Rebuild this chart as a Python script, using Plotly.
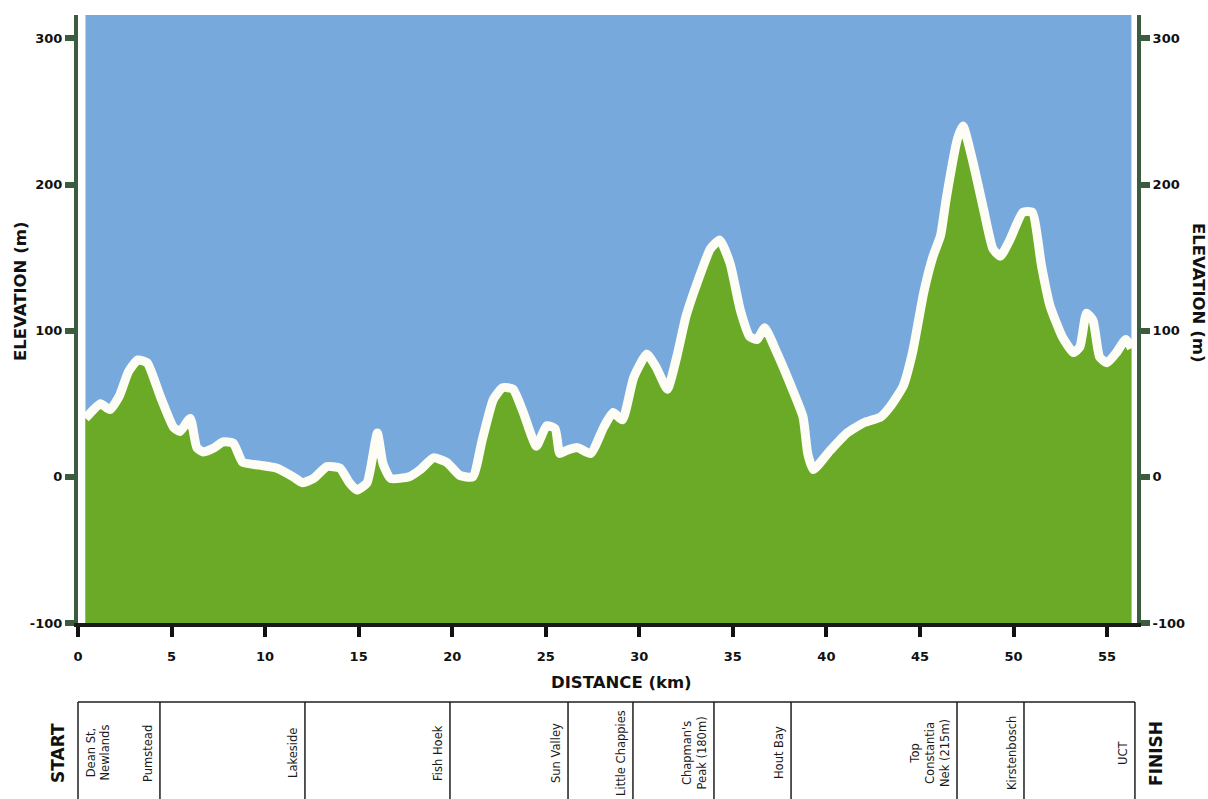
import plotly.graph_objects as go

# ---------------- data ----------------
distance_km = [0.4, 1.2, 1.7, 2.2, 2.7, 3.2, 3.7, 4.4, 5.1, 5.45, 6.0, 6.35, 6.7, 7.3, 7.75,
               8.3, 8.8, 9.7, 10.6, 11.5, 12.0, 12.6, 13.3, 14.0, 14.5, 14.9, 15.45, 16.0,
               16.3, 16.7, 17.7, 18.3, 19.0, 19.7, 20.4, 21.1, 21.6, 22.2, 22.7, 23.25, 23.8,
               24.5, 25.05, 25.5, 25.75, 26.1, 26.7, 27.4, 28.1, 28.6, 29.1, 29.7, 30.4, 30.9,
               31.5, 32.0, 32.5, 33.1, 33.8, 34.3, 34.85, 35.4, 35.9, 36.3, 36.7, 37.35, 38.05,
               38.75, 39.0, 39.3, 40.2, 41.1, 42.0, 42.9, 43.4, 44.1, 44.6, 45.2, 45.7, 46.1,
               46.4, 47.0, 47.3, 47.8, 48.4, 48.9, 49.3, 49.8, 50.5, 51.0, 51.5, 51.95, 52.6,
               53.2, 53.55, 53.9, 54.25, 54.6, 55.0, 55.5, 56.0, 56.3]
elevation_m = [40, 50, 46, 55, 72, 80, 78, 55, 34, 31, 40, 20, 17, 20, 24,
               23, 10, 8, 6, 0, -4, -1, 7, 6, -4, -9, -4, 30,
               9, -1, 0, 5, 13, 10, 1, 0, 25, 53, 61, 60, 44,
               21, 35, 33, 16, 18, 20, 16, 34, 44, 39, 68, 84, 75,
               60, 82, 110, 133, 156, 162, 146, 114, 96, 94, 102, 85, 64,
               41, 16, 5, 18, 30, 37, 41, 48, 62, 85, 126, 151, 165,
               190, 231, 240, 217, 183, 156, 151, 162, 181, 181, 144, 117, 96,
               85, 89, 112, 107, 82, 78, 85, 94, 88]

x_ticks = [0, 5, 10, 15, 20, 25, 30, 35, 40, 45, 50, 55]
y_ticks = [300, 200, 100, 0, -100]
y_tick_text = ["300", "200", "100", "0", "-100"]
y_range = [-100, 316]
x_range = [0, 56.6]

landmark_names = ["Pumstead", "Lakeside", "Fish Hoek", "Sun Valley", "Little Chappies",
                  "Chapman's<br>Peak (180m)", "Hout Bay", "Top<br>Constantia<br>Nek (215m)",
                  "Kirstenbosch", "UCT"]
landmark_km = [4.38, 12.13, 19.88, 26.19, 29.66, 33.99, 38.11, 46.98, 50.56, 56.49]
start_name = "Dean St,<br>Newlands"

# ---------------- style ----------------
W, H = 1208, 799
L, R, T, B = 78, 71, 15, 176
PW, PH = W - L - R, H - T - B
BLUE = "#78a9dc"
GREEN = "#6aaa26"
AXIS_GREEN = "#3d5c3f"
FONT = "DejaVu Sans"


def px_x(px):
    return (px - L) / PW


def px_y(py):
    return (H - B - py) / PH


fig = go.Figure()

# baseline for the filled terrain
fig.add_trace(go.Scatter(x=distance_km, y=[y_range[0]] * len(distance_km),
                         mode="lines", line=dict(width=0, color=GREEN),
                         hoverinfo="skip", showlegend=False))
fig.add_trace(go.Scatter(x=distance_km, y=elevation_m, mode="lines",
                         fill="tonexty", fillcolor=GREEN,
                         line=dict(color="#fdfdf6", width=9, shape="spline", smoothing=0.5),
                         showlegend=False))
# right axis companion (invisible)
fig.add_trace(go.Scatter(x=distance_km, y=elevation_m, yaxis="y2", mode="lines",
                         line=dict(width=0), hoverinfo="skip", showlegend=False, opacity=0))

shapes = [
    dict(type="rect", xref="x", yref="paper", x0=distance_km[0], x1=distance_km[-1],
         y0=0, y1=1, fillcolor=BLUE, line=dict(width=0), layer="below"),
]

# table below the chart
tbl_top = px_y(702)
tbl_bot = px_y(830)
line_style = dict(color="#1e1e1e", width=1.5)
shapes.append(dict(type="line", xref="paper", yref="paper", x0=0, x1=landmark_km[-1] / x_range[1],
                   y0=tbl_top, y1=tbl_top, line=line_style))
shapes.append(dict(type="line", xref="paper", yref="paper", x0=0, x1=0,
                   y0=tbl_top, y1=tbl_bot, line=line_style))
for km in landmark_km:
    shapes.append(dict(type="line", xref="x", yref="paper", x0=km, x1=km,
                       y0=tbl_top, y1=tbl_bot, line=line_style))

label_y = px_y(753)
annotations = []
for name, km in zip(landmark_names, landmark_km):
    annotations.append(dict(x=km, xref="x", y=label_y, yref="paper", text=name,
                            textangle=-90, xanchor="right", yanchor="middle", xshift=-3,
                            showarrow=False, font=dict(family=FONT, size=11.5, color="#1a1a1a")))
annotations.append(dict(x=0, xref="x", y=label_y, yref="paper", text=start_name,
                        textangle=-90, xanchor="left", yanchor="middle", xshift=3,
                        showarrow=False, font=dict(family=FONT, size=11.5, color="#1a1a1a")))
annotations.append(dict(x=0, xref="x", y=label_y, yref="paper", text="START",
                        textangle=-90, xanchor="right", yanchor="middle", xshift=-8,
                        showarrow=False, font=dict(family=FONT, size=17, color="#111", weight="bold")))
annotations.append(dict(x=landmark_km[-1], xref="x", y=label_y, yref="paper", text="FINISH",
                        textangle=-90, xanchor="left", yanchor="middle", xshift=9,
                        showarrow=False, font=dict(family=FONT, size=17, color="#111", weight="bold")))

# axis titles
title_font = dict(family=FONT, size=16.5, color="#111", weight="bold")
annotations.append(dict(x=px_x(20), y=px_y(292), xref="paper", yref="paper",
                        text="ELEVATION (m)", textangle=-90, showarrow=False,
                        xanchor="center", yanchor="middle", font=title_font))
annotations.append(dict(x=px_x(1199), y=px_y(292), xref="paper", yref="paper",
                        text="ELEVATION (m)", textangle=90, showarrow=False,
                        xanchor="center", yanchor="middle", font=title_font))
annotations.append(dict(x=px_x(621), y=px_y(682), xref="paper", yref="paper",
                        text="DISTANCE (km)", showarrow=False,
                        xanchor="center", yanchor="middle", font=title_font))

tick_font = dict(family=FONT, size=13, color="#111", weight="bold")
yaxis_common = dict(range=y_range, tickvals=y_ticks, ticktext=y_tick_text, ticks="outside",
                    ticklen=9, tickwidth=6, tickcolor=AXIS_GREEN, showline=True,
                    linecolor=AXIS_GREEN, linewidth=4, showgrid=False, zeroline=False,
                    tickfont=tick_font, fixedrange=True)

fig.update_layout(
    width=W, height=H, autosize=False,
    margin=dict(l=L, r=R, t=T, b=B, pad=0),
    paper_bgcolor="white", plot_bgcolor="white",
    xaxis=dict(range=x_range, tickvals=x_ticks, ticks="outside", ticklen=10, tickwidth=4,
               tickcolor="#111", showline=True, linecolor="#1a1a1a", linewidth=4,
               showgrid=False, zeroline=False, tickfont=tick_font, ticklabelstandoff=8),
    yaxis=dict(side="left", **yaxis_common),
    yaxis2=dict(side="right", overlaying="y", anchor="x", **yaxis_common),
    shapes=shapes,
    annotations=annotations,
    showlegend=False,
)

fig.write_html("out.html", config={"displayModeBar": False},
               post_script="document.body.style.margin='0';document.body.style.overflow='hidden';")
